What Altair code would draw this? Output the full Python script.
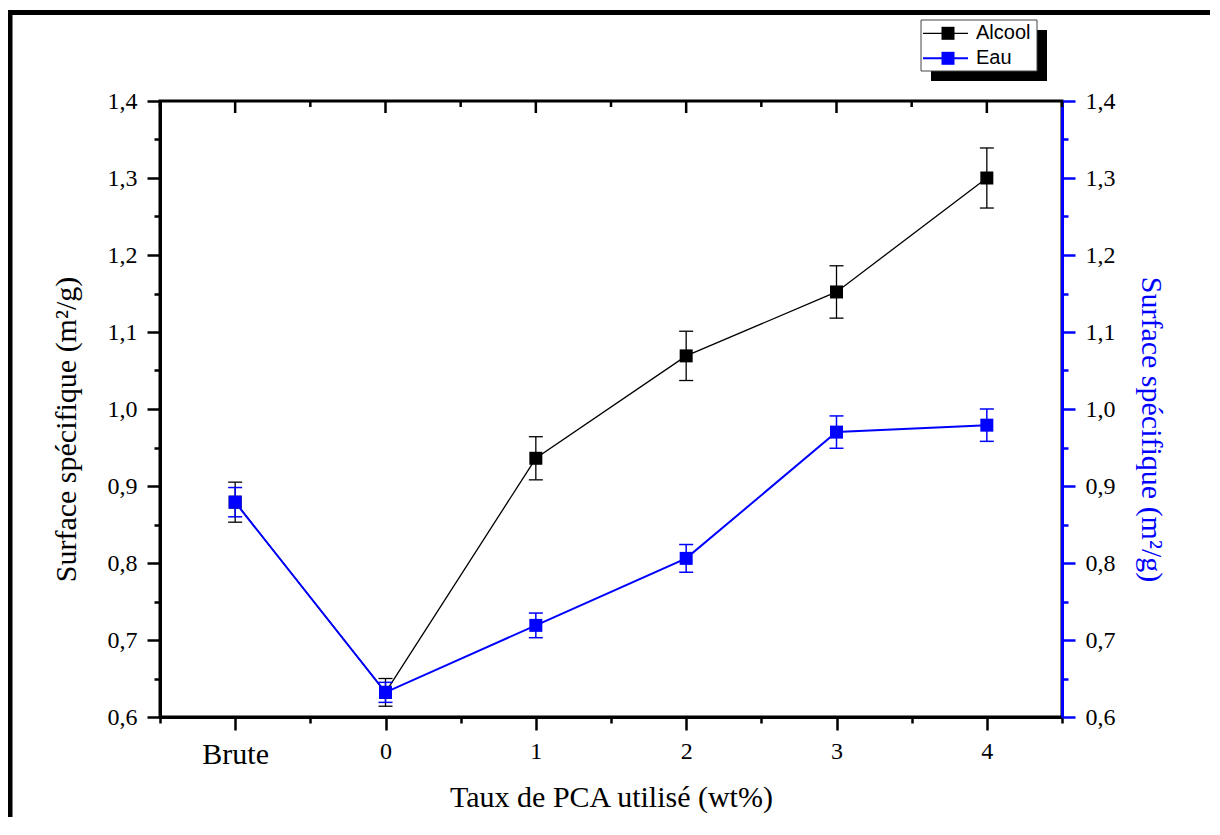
import altair as alt
import pandas as pd

# ---------------- data ----------------
x_labels = ["Brute", "0", "1", "2", "3", "4"]
alcool = [0.879, 0.632, 0.936, 1.069, 1.152, 1.300]
alcool_err = [0.026, 0.018, 0.028, 0.032, 0.034, 0.039]
eau = [0.879, 0.632, 0.719, 0.806, 0.970, 0.979]
eau_err = [0.019, 0.013, 0.016, 0.018, 0.021, 0.021]
series = ["Alcool", "Eau"]
series_colors = ["#000000", "#0000ff"]

x_major = [-1, 0, 1, 2, 3, 4]
x_minor = [-1.5, -0.5, 0.5, 1.5, 2.5, 3.5, 4.5]
y_ticks = [round(0.6 + 0.05 * i, 2) for i in range(17)]

X_TITLE = "Taux de PCA utilisé (wt%)"
Y_TITLE = "Surface spécifique (m²/g)"
SERIF = "Liberation Serif"
SANS = "Liberation Sans"
BLUE = "#0000ff"

df = pd.DataFrame({
    "pos": [i - 1 for i in range(len(x_labels))],
    "label": x_labels,
    "alcool": alcool,
    "alcool_lo": [v - e for v, e in zip(alcool, alcool_err)],
    "alcool_hi": [v + e for v, e in zip(alcool, alcool_err)],
    "eau": eau,
    "eau_lo": [v - e for v, e in zip(eau, eau_err)],
    "eau_hi": [v + e for v, e in zip(eau, eau_err)],
})

label_expr = " : ".join(
    f"datum.value == {i - 1} ? '{lab}'" for i, lab in enumerate(x_labels)
) + " : ''"

x_axis = alt.Axis(
    orient="bottom",
    values=sorted(x_major + x_minor),
    labelExpr=label_expr,
    tickSize={"condition": {"test": "datum.value % 1 == 0", "value": 13}, "value": 6},
    tickWidth=2.5, tickColor="black",
    domainColor="black", domainWidth=3,
    labelFont=SERIF,
    labelFontSize={"condition": {"test": "datum.value == -1", "value": 30}, "value": 24},
    labelColor="black", labelPadding=9, labelFlush=False, labelOverlap=False,
    grid=False,
    titleFont=SERIF, titleFontSize=30, titleFontWeight="normal",
    titleColor="black", titlePadding=13,
)

major_y = "abs(datum.value*10 - round(datum.value*10)) < 0.001"
y_label_expr = f"{major_y} ? replace(format(datum.value, '.1f'), '.', ',') : ''"


def make_y_axis(orient, color, title_color, pad):
    return alt.Axis(
        orient=orient,
        values=y_ticks,
        labelExpr=y_label_expr,
        tickSize={"condition": {"test": major_y, "value": 13}, "value": 6},
        tickWidth=2.5, tickColor=color,
        domainColor=color, domainWidth=3,
        labelFont=SERIF, labelFontSize=24, labelColor="black",
        labelPadding=10, labelFlush=False, labelOverlap=False,
        grid=False,
        titleFont=SERIF, titleFontSize=30, titleFontWeight="normal",
        titleColor=title_color, titlePadding=pad, titleY=328,
    )


y_axis_left = make_y_axis("left", "black", "black", 26)
y_axis_right = make_y_axis("right", BLUE, BLUE, 20)

x_scale = alt.Scale(domain=[-1.5, 4.5], nice=False, zero=False)
y_scale = alt.Scale(domain=[0.6, 1.4], nice=False, zero=False)


def X(field):
    return alt.X(field, type="quantitative", scale=x_scale, axis=x_axis, title=X_TITLE)


def Y(field, axis):
    return alt.Y(field, type="quantitative", scale=y_scale, axis=axis, title=Y_TITLE)


def Y2(field):
    return alt.Y2(field)


base = alt.Chart(df)


def series_layers(key, color, axis, lw, ew):
    err = base.mark_rule(color=color, strokeWidth=ew).encode(
        x=X("pos"), y=Y(f"{key}_lo", axis), y2=Y2(f"{key}_hi"))
    cap_lo = base.mark_tick(orient="horizontal", size=14, thickness=ew,
                            color=color, opacity=1).encode(
        x=X("pos"), y=Y(f"{key}_lo", axis))
    cap_hi = base.mark_tick(orient="horizontal", size=14, thickness=ew,
                            color=color, opacity=1).encode(
        x=X("pos"), y=Y(f"{key}_hi", axis))
    line = base.mark_line(color=color, strokeWidth=lw).encode(
        x=X("pos"), y=Y(key, axis))
    pts = base.mark_square(color=color, filled=True, size=169, opacity=1).encode(
        x=X("pos"), y=Y(key, axis))
    return [err, cap_lo, cap_hi, line, pts]


one = alt.Chart(pd.DataFrame({"z": [0]}))

# outer frame (only top and left edges fall inside the picture)
frame_left = one.mark_rule(color="black", strokeWidth=5).encode(
    x=alt.value(-150), y=alt.value(-91), y2=alt.value(800))
frame_top = one.mark_rule(color="black", strokeWidth=5).encode(
    x=alt.value(-150), x2=alt.value(1100), y=alt.value(-88.5))

# top axis ticks (inward), positioned through the x scale
top_major = alt.Chart(pd.DataFrame({"t": x_major})).mark_rule(
    color="black", strokeWidth=2.5).encode(
    x=X("t"), y=alt.value(0), y2=alt.value(12))
top_minor = alt.Chart(pd.DataFrame({"t": x_minor})).mark_rule(
    color="black", strokeWidth=2.5).encode(
    x=X("t"), y=alt.value(0), y2=alt.value(6))

# legend with drop shadow
shadow = one.mark_rect(color="black").encode(
    x=alt.value(771), x2=alt.value(887), y=alt.value(-71), y2=alt.value(-20))
box = one.mark_rect(fill="white", stroke="#444444", strokeWidth=1).encode(
    x=alt.value(761), x2=alt.value(877), y=alt.value(-81), y2=alt.value(-30))
legend_layers = [shadow, box]
for i, (name, col) in enumerate(zip(series, series_colors)):
    yv = -67.7 + 25 * i
    legend_layers.append(one.mark_rule(color=col, strokeWidth=1.3 if i == 0 else 2).encode(
        x=alt.value(763), x2=alt.value(808), y=alt.value(yv)))
    legend_layers.append(one.mark_square(color=col, filled=True, size=169, opacity=1).encode(
        x=alt.value(788), y=alt.value(yv)))
    legend_layers.append(alt.Chart(pd.DataFrame({"name": [name]})).mark_text(
        align="left", baseline="middle", font=SANS, fontSize=20, color="black").encode(
        text="name:N", x=alt.value(816), y=alt.value(yv)))

left = alt.layer(
    frame_left, frame_top, top_major, top_minor, *legend_layers,
    *series_layers("alcool", series_colors[0], y_axis_left, 1.3, 1.3),
)
right = alt.layer(
    *series_layers("eau", series_colors[1], y_axis_right, 2, 1.5),
)

chart = alt.layer(left, right).resolve_scale(y="independent").properties(
    width=902, height=616,
    autosize=alt.AutoSizeParams(type="none"),
    padding={"left": 152, "top": 93, "right": 148, "bottom": 100},
    background="white",
).configure_view(stroke="black", strokeWidth=3)

chart.save("out.html", embed_options={"renderer": "svg", "actions": False})
